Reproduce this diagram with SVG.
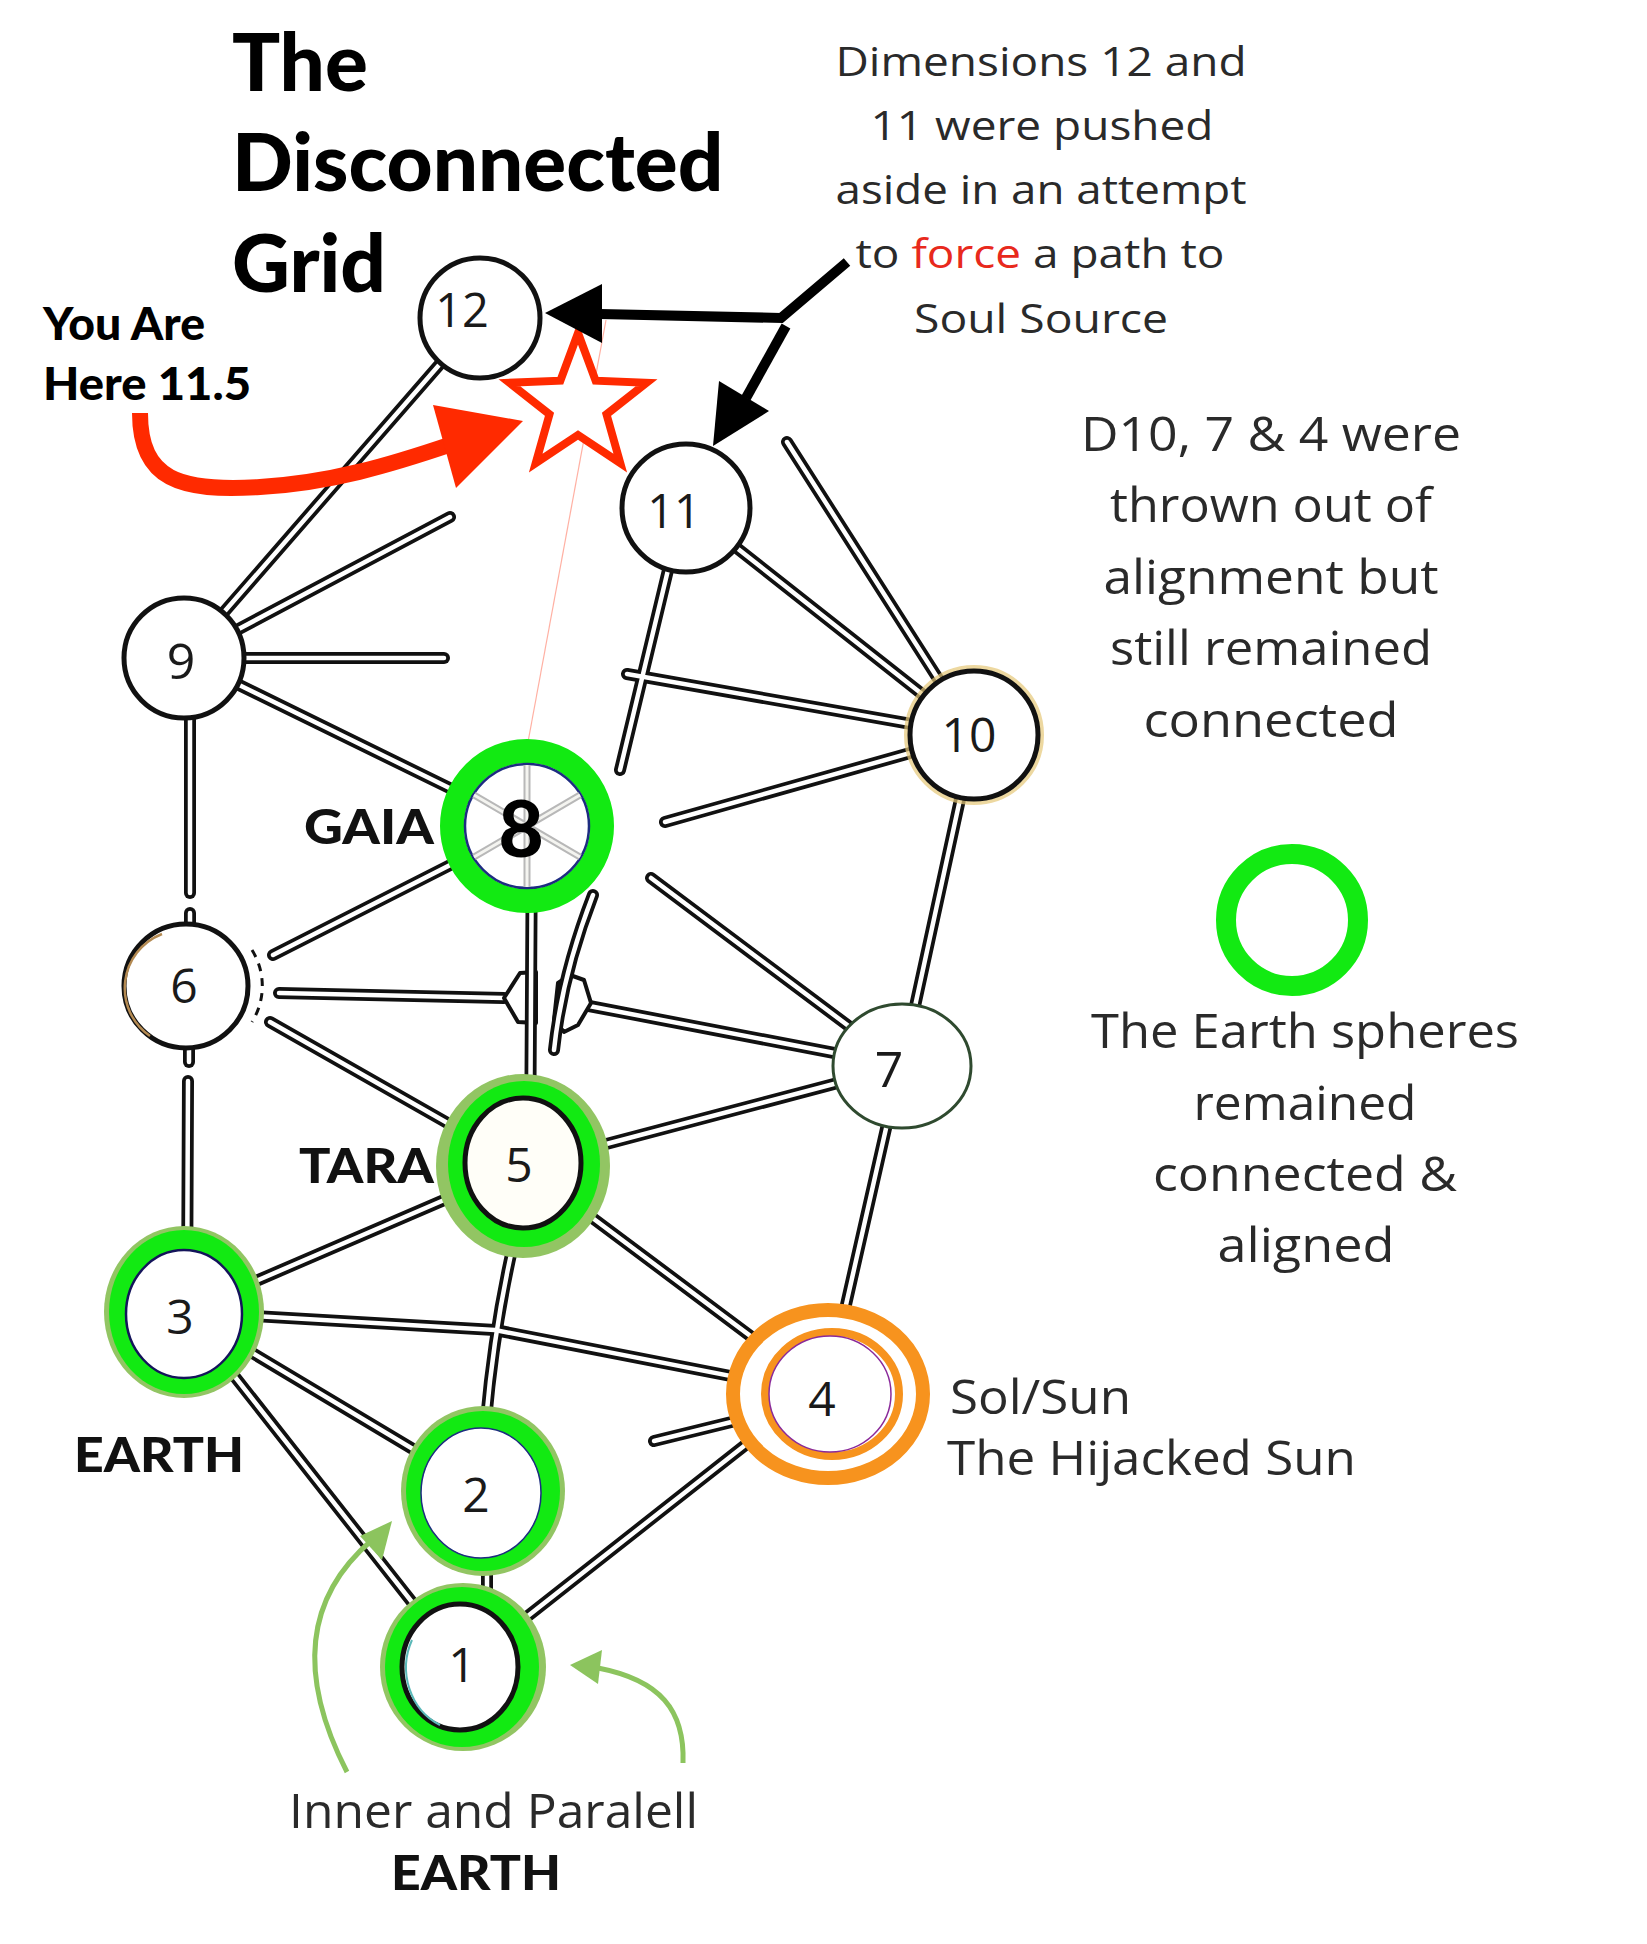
<svg xmlns="http://www.w3.org/2000/svg" xmlns:xlink="http://www.w3.org/1999/xlink" width="1647" height="1944" viewBox="0 0 1647 1944">
<style>
.title{font-family:Lato,"Liberation Sans",sans-serif;font-weight:900;fill:#000}
.lbl{font-family:Lato,"Liberation Sans",sans-serif;font-weight:900;fill:#111}
.num{font-family:"Open Sans","Liberation Sans",sans-serif;font-weight:400;fill:#1a1a1a;text-anchor:middle}
.note{font-family:"Open Sans","Liberation Sans",sans-serif;font-weight:400;fill:#2a2a2a;text-anchor:middle}
.side{font-family:"Open Sans","Liberation Sans",sans-serif;font-weight:400;fill:#2a2a2a}
.outer use{fill:none;stroke:#111;stroke-width:12;stroke-linecap:round;stroke-linejoin:round}
.inner use{fill:none;stroke:#fff;stroke-width:4.5;stroke-linecap:round;stroke-linejoin:round}
.halo{fill:#92c563}
.green{fill:none;stroke:#12ea12}
.plain{fill:#fff;stroke:#111;stroke-width:5}
</style>
<defs>
<path id="e1" d="M480 318 L184 658"/>
<path id="e2" d="M184 658 L450 517"/>
<path id="e3" d="M184 658 L444 658"/>
<path id="e4" d="M184 658 L527 826"/>
<path id="e5" d="M190 658 L190 893"/>
<path id="e5b" d="M190 913 L190 926"/>
<path id="e5c" d="M189 1048 L189 1062"/>
<path id="e6" d="M188 1081 L187 1312"/>
<path id="e7" d="M273 955 L527 826"/>
<path id="e8" d="M279 993 L504 998"/>
<path id="e9" d="M589 1006 L902 1066"/>
<path id="e10" d="M532 826 L530 1166"/>
<path id="e11" d="M593 895 Q 562 975 554 1050"/>
<path id="e12" d="M665 822 L974 735"/>
<path id="e13" d="M680 520 L620 770"/>
<path id="e14" d="M974 735 L627 674"/>
<path id="e15" d="M686 508 L974 735"/>
<path id="e16" d="M787 442 L974 735"/>
<path id="e17" d="M974 735 L902 1066"/>
<path id="e18" d="M651 878 L902 1066"/>
<path id="e19" d="M523 1166 L902 1066"/>
<path id="e20" d="M270 1022 L523 1166"/>
<path id="e21" d="M184 1312 L523 1166"/>
<path id="e22" d="M512 1250 Q 494 1330 486 1420"/>
<path id="e23" d="M184 1312 L495 1330 L828 1395"/>
<path id="e24" d="M523 1166 L828 1394"/>
<path id="e25" d="M897 1080 L838 1340"/>
<path id="e26" d="M184 1312 L483 1491"/>
<path id="e27" d="M184 1312 L463 1667"/>
<path id="e28" d="M487 1491 L487 1667"/>
<path id="e29" d="M463 1667 L744 1446"/>
<path id="e30" d="M654 1441 L760 1415"/>
<path id="sp" d="M527 765 L527 887 M474 795 L580 857 M474 857 L580 795"/>
</defs>
<rect width="1647" height="1944" fill="#fff"/>

<g id="connectors">
  <g class="outer">
    <use href="#e1"/><use href="#e2"/><use href="#e3"/><use href="#e4"/><use href="#e5"/><use href="#e5b"/><use href="#e5c"/><use href="#e6"/><use href="#e7"/><use href="#e8"/><use href="#e9"/><use href="#e12"/><use href="#e13"/><use href="#e14"/><use href="#e15"/><use href="#e16"/><use href="#e17"/><use href="#e18"/><use href="#e19"/><use href="#e20"/><use href="#e21"/><use href="#e22"/><use href="#e23"/><use href="#e24"/><use href="#e25"/><use href="#e26"/><use href="#e27"/><use href="#e28"/><use href="#e29"/><use href="#e30"/>
  </g>
  <g class="inner">
    <use href="#e1"/><use href="#e2"/><use href="#e3"/><use href="#e4"/><use href="#e5"/><use href="#e5b"/><use href="#e5c"/><use href="#e6"/><use href="#e7"/><use href="#e8"/><use href="#e9"/><use href="#e12"/><use href="#e13"/><use href="#e14"/><use href="#e15"/><use href="#e16"/><use href="#e17"/><use href="#e18"/><use href="#e19"/><use href="#e20"/><use href="#e21"/><use href="#e22"/><use href="#e23"/><use href="#e24"/><use href="#e25"/><use href="#e26"/><use href="#e27"/><use href="#e28"/><use href="#e29"/><use href="#e30"/>
  </g>
  <polygon points="504,998 520,973 536,972 536,1023 518,1022" fill="#fff" stroke="#111" stroke-width="4" stroke-linejoin="round"/>
  <polygon points="554,1020 558,983 570,975 584,980 591,1003 578,1025 564,1032" fill="#fff" stroke="#111" stroke-width="4" stroke-linejoin="round"/>
  <g class="outer"><use href="#e10"/><use href="#e11"/></g>
  <g class="inner"><use href="#e10"/><use href="#e11"/></g>
  <line x1="606" y1="320" x2="528" y2="742" stroke="#ff8f7c" stroke-width="1.2" opacity="0.7"/>
</g>

<g id="node-12"><circle class="plain" cx="480" cy="318" r="60"/><text class="num" x="462" y="327" font-size="47">12</text></g>
<g id="node-11"><circle class="plain" cx="686" cy="508" r="64"/><text class="num" x="674" y="528" font-size="47">11</text></g>
<g id="node-9"><circle class="plain" cx="184" cy="658" r="60"/><text class="num" x="181" y="679" font-size="50">9</text></g>
<g id="node-10"><circle cx="974" cy="735" r="68" fill="none" stroke="#e6c877" stroke-width="4" opacity="0.7"/><circle class="plain" cx="974" cy="735" r="64"/><text class="num" x="969" y="752" font-size="48">10</text></g>
<g id="node-8">
  <circle cx="527" cy="826" r="75" fill="#fff" class="green" stroke-width="24"/>
  <circle cx="527" cy="826" r="62" fill="#fff" stroke="#1d2c80" stroke-width="2.5"/>
  <use href="#sp" fill="none" stroke="#b8b8b8" stroke-width="7"/>
  <use href="#sp" fill="none" stroke="#f4f4f0" stroke-width="3"/>
  <text x="521" y="857" font-family="Lato,'Liberation Sans',sans-serif" font-weight="900" font-size="78" text-anchor="middle" fill="#000">8</text>
</g>
<g id="node-6">
  <circle class="plain" cx="186" cy="986" r="62" stroke-width="5.5"/>
  <path d="M150 1036 A 58 58 0 0 1 162 934" fill="none" stroke="#b48a52" stroke-width="2.5"/>
  <path d="M252 950 A 68 68 0 0 1 252 1022" fill="none" stroke="#111" stroke-width="3" stroke-dasharray="8 7"/>
  <text class="num" x="184" y="1003" font-size="48">6</text>
</g>
<g id="node-7"><ellipse cx="902" cy="1066" rx="69" ry="62" fill="#fff" stroke="#2f4a2f" stroke-width="3"/><text class="num" x="889" y="1087" font-size="50">7</text></g>
<g id="node-5">
  <ellipse class="halo" cx="523" cy="1166" rx="87" ry="92"/>
  <ellipse cx="524" cy="1164" rx="76" ry="83" fill="#12ea12"/>
  <ellipse cx="523" cy="1163" rx="58" ry="65" fill="#fffef8" stroke="#111" stroke-width="5"/>
  <text class="num" x="519" y="1182" font-size="48">5</text>
</g>
<g id="node-3">
  <ellipse class="halo" cx="184" cy="1312" rx="80" ry="86"/>
  <ellipse cx="184" cy="1312" rx="75" ry="82" fill="#12ea12"/>
  <ellipse cx="184" cy="1314" rx="58" ry="64" fill="#fff" stroke="#14145a" stroke-width="2.5"/>
  <text class="num" x="180" y="1334" font-size="48">3</text>
</g>
<g id="node-2">
  <ellipse class="halo" cx="483" cy="1491" rx="82" ry="85"/>
  <ellipse cx="483" cy="1491" rx="77" ry="80" fill="#12ea12"/>
  <ellipse cx="481" cy="1493" rx="60" ry="65" fill="#fff" stroke="#1d2c80" stroke-width="1.5"/>
  <text class="num" x="476" y="1512" font-size="48">2</text>
</g>
<g id="node-1">
  <ellipse class="halo" cx="463" cy="1667" rx="83" ry="84"/>
  <ellipse cx="462" cy="1667" rx="77" ry="80" fill="#12ea12"/>
  <ellipse cx="460" cy="1667" rx="58" ry="63" fill="#fff" stroke="#111" stroke-width="5"/>
  <path d="M412 1640 A 58 63 0 0 0 440 1725" fill="none" stroke="#5ab8b8" stroke-width="2"/>
  <text class="num" x="462" y="1682" font-size="48">1</text>
</g>
<g id="node-4">
  <ellipse cx="828" cy="1394" rx="95" ry="84" fill="#fff" stroke="#f7931e" stroke-width="14"/>
  <ellipse cx="832" cy="1394" rx="67" ry="62" fill="none" stroke="#f7931e" stroke-width="8"/>
  <ellipse cx="830" cy="1394" rx="61" ry="58" fill="#fff" stroke="#8a2a9a" stroke-width="1.5"/>
  <text class="num" x="822" y="1416" font-size="48">4</text>
</g>

<g id="title">
  <text class="title" x="232" y="91" font-size="80">The</text>
  <text class="title" x="232" y="191" font-size="80">Disconnected</text>
  <text class="title" x="232" y="292" font-size="80">Grid</text>
</g>
<g id="you-are-here">
  <text class="title" x="43" y="340" font-size="46" textLength="162" lengthAdjust="spacingAndGlyphs">You Are</text>
  <text class="title" x="43" y="400" font-size="46" textLength="208" lengthAdjust="spacingAndGlyphs">Here 11.5</text>
  <path d="M140 413 C 140 480, 180 492, 260 487 C 330 483, 390 465, 452 444" fill="none" stroke="#ff2a00" stroke-width="16"/>
  <polygon points="523,421 433,405 456,488" fill="#ff2a00"/>
  <polygon points="578,333 595.6,380.7 646.5,382.8 606.5,414.3 620.3,463.2 578,435 535.7,463.2 549.5,414.3 509.5,382.8 560.4,380.7" fill="#fff" stroke="#ff2a00" stroke-width="8"/>
</g>
<g id="pushed-aside">
  <text class="note" x="1041" y="76" font-size="40" textLength="411" lengthAdjust="spacingAndGlyphs">Dimensions 12 and</text>
  <text class="note" x="1042" y="140" font-size="40" textLength="343" lengthAdjust="spacingAndGlyphs">11 were pushed</text>
  <text class="note" x="1041" y="204" font-size="40" textLength="411" lengthAdjust="spacingAndGlyphs">aside in an attempt</text>
  <text class="note" x="1040" y="268" font-size="40" textLength="369" lengthAdjust="spacingAndGlyphs">to <tspan fill="#e8291c">force</tspan> a path to</text>
  <text class="note" x="1041" y="333" font-size="40" textLength="254" lengthAdjust="spacingAndGlyphs">Soul Source</text>
  <path d="M847 262 L781 318 L600 314" fill="none" stroke="#000" stroke-width="10"/>
  <polygon points="545,313 602,284 602,343" fill="#000"/>
  <path d="M786 326 L746 398" fill="none" stroke="#000" stroke-width="10"/>
  <polygon points="713,446 719,381 769,411" fill="#000"/>
</g>
<g id="thrown-out">
  <text class="note" x="1271" y="451" font-size="48" textLength="380" lengthAdjust="spacingAndGlyphs">D10, 7 &amp; 4 were</text>
  <text class="note" x="1271" y="522" font-size="48" textLength="322" lengthAdjust="spacingAndGlyphs">thrown out of</text>
  <text class="note" x="1271" y="594" font-size="48" textLength="335" lengthAdjust="spacingAndGlyphs">alignment but</text>
  <text class="note" x="1271" y="665" font-size="48" textLength="322" lengthAdjust="spacingAndGlyphs">still remained</text>
  <text class="note" x="1271" y="737" font-size="48" textLength="255" lengthAdjust="spacingAndGlyphs">connected</text>
</g>
<g id="legend">
  <circle cx="1292" cy="920" r="66" fill="none" stroke="#12ea12" stroke-width="20"/>
  <text class="note" x="1305" y="1048" font-size="48" textLength="428" lengthAdjust="spacingAndGlyphs">The Earth spheres</text>
  <text class="note" x="1305" y="1120" font-size="48" textLength="223" lengthAdjust="spacingAndGlyphs">remained</text>
  <text class="note" x="1305" y="1191" font-size="48" textLength="304" lengthAdjust="spacingAndGlyphs">connected &amp;</text>
  <text class="note" x="1306" y="1262" font-size="48" textLength="177" lengthAdjust="spacingAndGlyphs">aligned</text>
</g>
<g id="labels">
  <text class="lbl" x="304" y="844" font-size="48" textLength="130" lengthAdjust="spacingAndGlyphs">GAIA</text>
  <text class="lbl" x="299" y="1183" font-size="48" textLength="135" lengthAdjust="spacingAndGlyphs">TARA</text>
  <text class="lbl" x="74" y="1472" font-size="48" textLength="170" lengthAdjust="spacingAndGlyphs">EARTH</text>
  <text class="side" x="950" y="1414" font-size="48" textLength="181" lengthAdjust="spacingAndGlyphs">Sol/Sun</text>
  <text class="side" x="947" y="1475" font-size="48" textLength="409" lengthAdjust="spacingAndGlyphs">The Hijacked Sun</text>
  <text class="side" x="289" y="1828" font-size="47" textLength="409" lengthAdjust="spacingAndGlyphs">Inner and Paralell</text>
  <text class="lbl" x="391" y="1890" font-size="48" textLength="170" lengthAdjust="spacingAndGlyphs">EARTH</text>
</g>
<g id="green-arrows">
  <path d="M347 1772 C 310 1700, 290 1610, 372 1540" fill="none" stroke="#8cc45e" stroke-width="5"/>
  <polygon points="392,1521 360,1536 382,1560" fill="#8cc45e"/>
  <path d="M683 1763 C 685 1710, 660 1680, 598 1668" fill="none" stroke="#8cc45e" stroke-width="5"/>
  <polygon points="570,1665 602,1650 598,1684" fill="#8cc45e"/>
</g>
</svg>
